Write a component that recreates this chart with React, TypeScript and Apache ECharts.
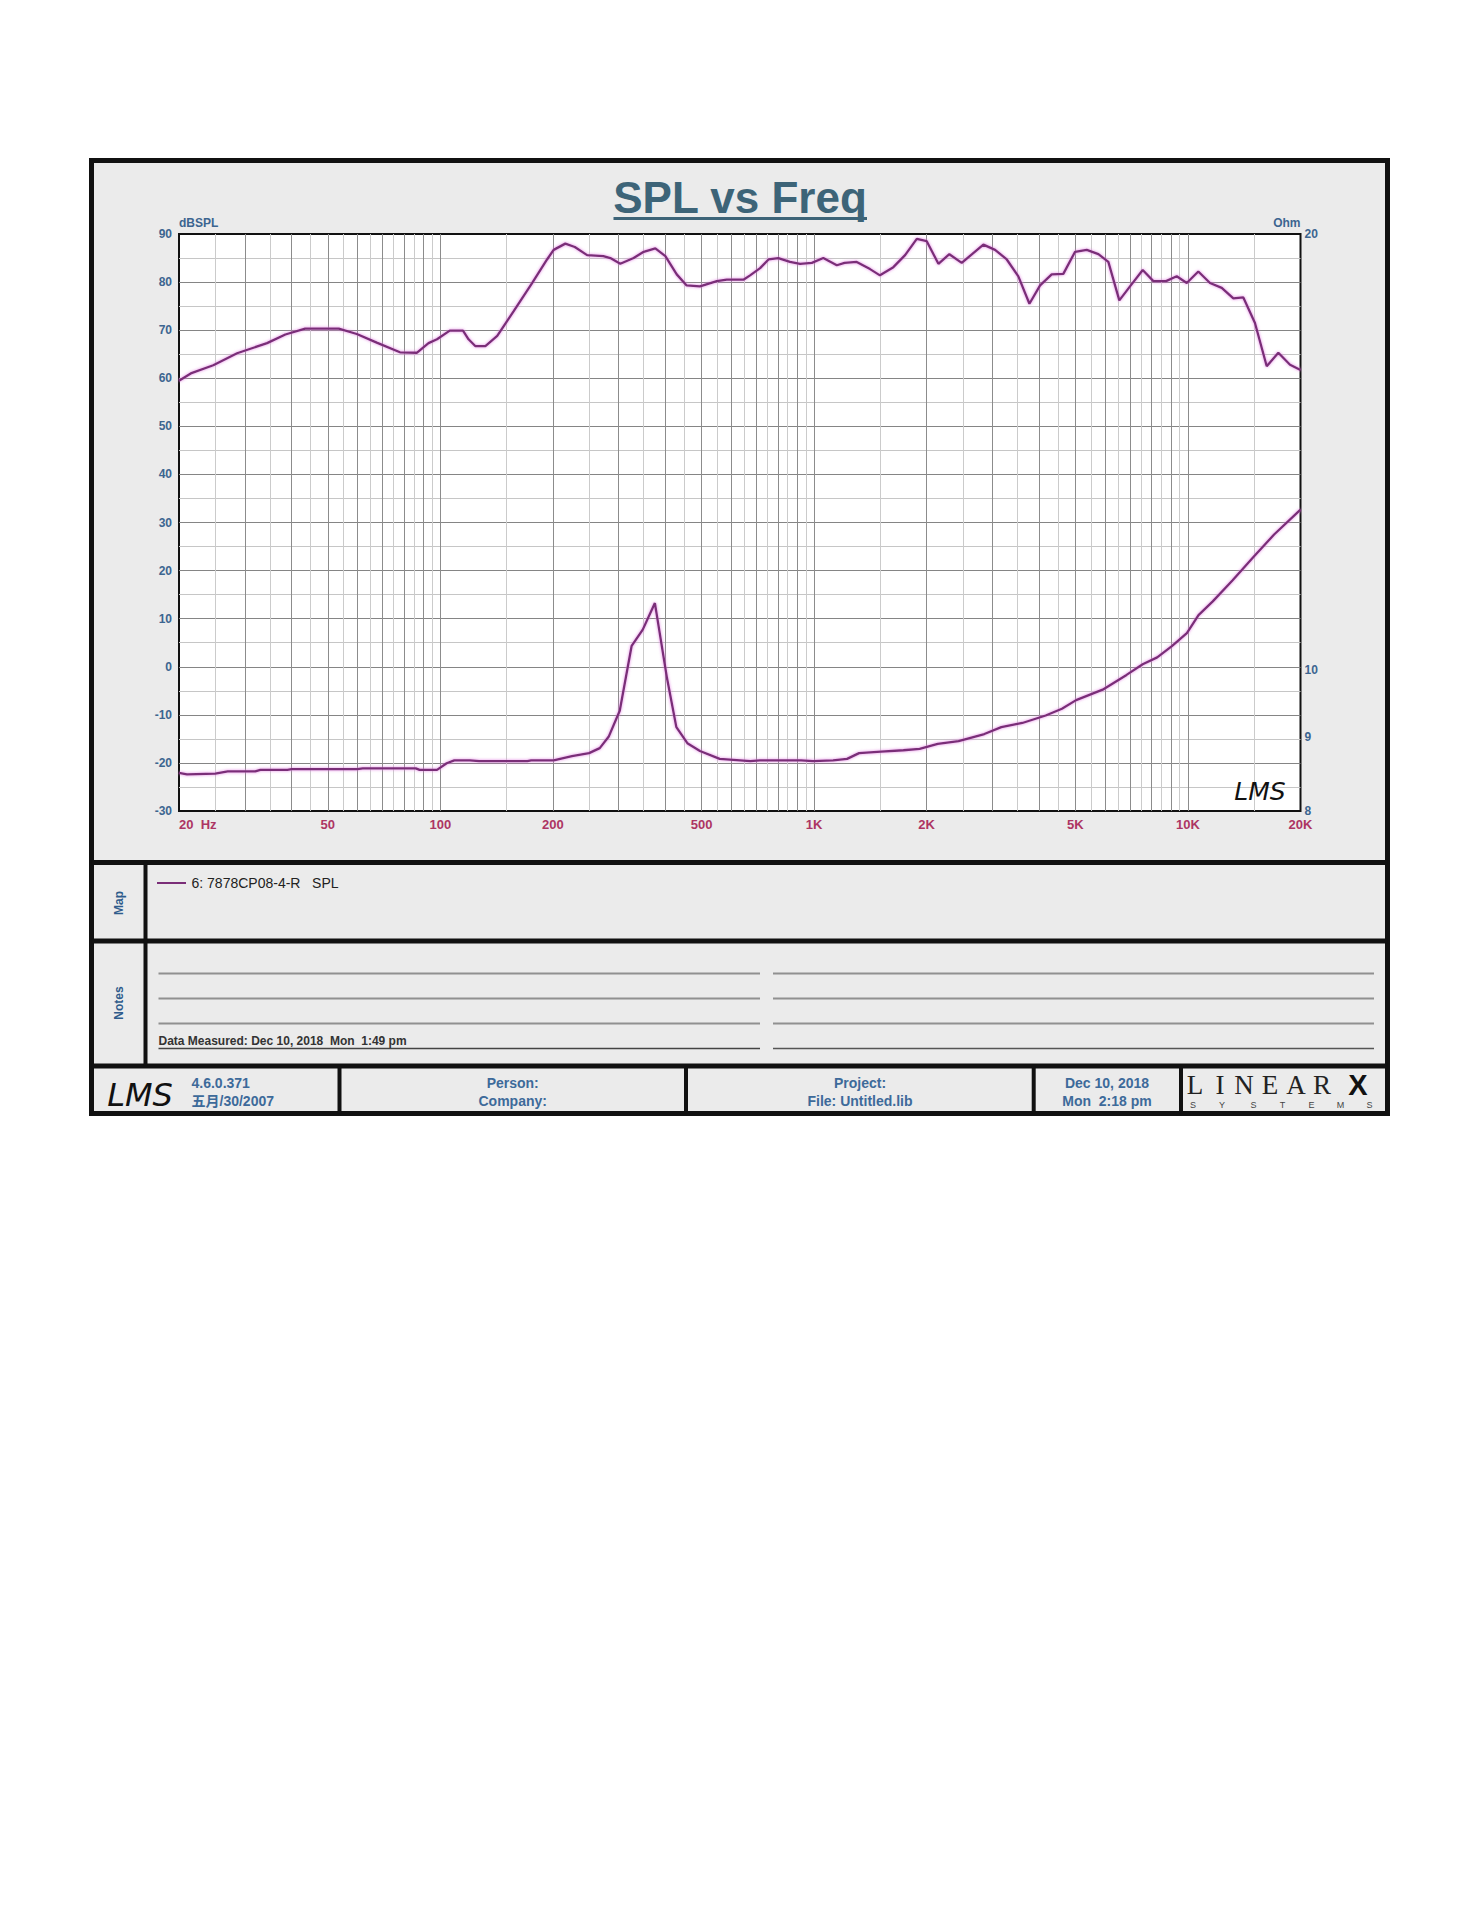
import React, { useEffect, useRef } from "react";
import * as echarts from "echarts";

// ---------- data ----------
const SPL_FREQ = [
  20, 21.5, 24.7, 28.6, 34.4, 38.5, 43.5, 53.5, 59.8, 67.6, 78, 86.5, 93, 98, 106, 115, 119, 124, 132, 142,
  157, 176, 193, 201, 216, 229, 247, 273, 285, 303, 329, 350, 376, 400, 429, 456, 495, 549, 584, 647,
  674, 717, 755, 802, 862, 917, 986, 1058, 1150, 1206, 1300, 1411, 1500, 1629, 1751, 1882, 2001, 2150, 2300, 2482,
  2836, 3048, 3276, 3518, 3766, 4022, 4320, 4641, 4989, 5361, 5760, 6124, 6552, 6998, 7568, 8081, 8737, 9332, 9926, 10659,
  11454, 12313, 13226, 14064, 15108, 16244, 17449, 18751, 20000,
];
const SPL_DB = [
  59.5, 61.0, 62.7, 65.2, 67.3, 69.1, 70.3, 70.3, 69.2, 67.4, 65.4, 65.3, 67.3, 68.1, 69.9, 69.9, 68.1, 66.7, 66.7, 68.8,
  73.9, 79.8, 84.7, 86.7, 88.0, 87.3, 85.6, 85.4, 85.0, 83.8, 85.0, 86.3, 87.0, 85.4, 81.6, 79.3, 79.1, 80.2, 80.5, 80.5,
  81.4, 82.9, 84.7, 85.0, 84.2, 83.8, 84.0, 85.0, 83.5, 84.0, 84.2, 82.7, 81.4, 83.1, 85.6, 89.0, 88.5, 83.8, 85.8, 84.0,
  87.8, 86.7, 84.7, 81.2, 75.5, 79.3, 81.6, 81.7, 86.3, 86.7, 85.8, 84.2, 76.2, 79.1, 82.5, 80.2, 80.2, 81.2, 79.8, 82.2,
  79.8, 78.8, 76.6, 76.8, 71.5, 62.5, 65.3, 62.8, 61.7,
];
const IMP_FREQ = [
  20, 21, 25, 27, 32, 33, 39, 40, 60, 62, 86, 88, 98, 104, 109, 120, 127, 171, 175, 201,
  225, 250, 267, 282, 302, 325, 348, 375, 404, 428, 458, 495, 559, 675, 716, 923, 993, 1124, 1225, 1319,
  1510, 1733, 1915, 2141, 2434, 2853, 3167, 3605, 4163, 4601, 5021, 5913, 6850, 7567, 8273, 9039, 9933, 10671, 11650, 13167,
  14905, 17000, 20000,
];
const IMP_OHM = [
  8.5, 8.48, 8.49, 8.52, 8.52, 8.54, 8.54, 8.55, 8.55, 8.56, 8.56, 8.54, 8.54, 8.63, 8.67, 8.67, 8.66, 8.66, 8.67, 8.67,
  8.73, 8.77, 8.84, 9.0, 9.38, 10.4, 10.67, 11.13, 9.88, 9.14, 8.91, 8.8, 8.69, 8.66, 8.67, 8.67, 8.66, 8.67, 8.69, 8.77,
  8.79, 8.81, 8.83, 8.9, 8.94, 9.04, 9.14, 9.2, 9.31, 9.41, 9.54, 9.7, 9.93, 10.1, 10.21, 10.39, 10.61, 10.92, 11.16, 11.54,
  11.96, 12.41, 12.91,
];

const GRID_FREQ_MAJOR = [
  30, 40, 50, 60, 70, 80, 90, 100, 200, 300, 400, 500, 600, 700, 800, 900,
  1000, 2000, 3000, 4000, 5000, 6000, 7000, 8000, 9000, 10000,
];
const GRID_FREQ_MINOR = [
  25, 35, 45, 55, 65, 75, 85, 95, 150, 250, 350, 450, 550, 650, 750, 850, 950,
  1500, 2500, 3500, 4500, 5500, 6500, 7500, 8500, 9500, 15000,
];
const FREQ_TICKS = [20, 50, 100, 200, 500, 1000, 2000, 5000, 10000, 20000];
const FREQ_LABELS = ["20  Hz", "50", "100", "200", "500", "1K", "2K", "5K", "10K", "20K"];
const FREQ_MIN = 20;
const FREQ_MAX = 20000;

const DB_MIN = -30;
const DB_MAX = 90;
const DB_STEP = 10;

const OHM_MIN = 8;
const OHM_MAX = 20;
const OHM_TICKS = [8, 9, 10, 20];

const TITLE = "SPL vs Freq";
const LEGEND_TEXT = "6: 7878CP08-4-R   SPL";
const MEASURED_TEXT = "Data Measured: Dec 10, 2018  Mon  1:49 pm";

// ---------- styles ----------
const FONT = "'Liberation Sans', Arial, 'Noto Sans CJK SC', sans-serif";
const SERIF = "'Liberation Serif', 'DejaVu Serif', serif";
const BLUE = "#3c6590";
const RED = "#ad3563";
const CURVE = "#7a2e78";
const TITLE_COLOR = "#3d6478";
const FOOT_BLUE = "#3d6a9a";
const CLEAR = "rgba(0,0,0,0)";

function txt(x: number, y: number, text: string, o: any = {}) {
  return {
    type: "text",
    x,
    y,
    z: 60,
    rotation: o.rotation || 0,
    silent: true,
    style: {
      text,
      fill: o.fill || FOOT_BLUE,
      fontSize: o.fontSize || 14,
      fontWeight: o.fontWeight || "bold",
      fontStyle: o.fontStyle || "normal",
      fontFamily: o.fontFamily || FONT,
      align: o.align || "center",
      verticalAlign: o.verticalAlign || "middle",
    },
  };
}
function ln(x1: number, y1: number, x2: number, y2: number, w: number, c: string) {
  return {
    type: "line",
    z: 50,
    silent: true,
    shape: { x1, y1, x2, y2 },
    style: { stroke: c, lineWidth: w },
  };
}

export default function App() {
  const ref = useRef<HTMLDivElement>(null);

  useEffect(() => {
    document.body.style.margin = "0";
    if (!ref.current) return;
    const chart = echarts.init(ref.current, undefined, { renderer: "svg" });

    const splData = SPL_FREQ.map((f, i) => [f, SPL_DB[i]]);
    const impData = IMP_FREQ.map((f, i) => [f, IMP_OHM[i]]);

    const gridLines = [
      ...GRID_FREQ_MAJOR.map((f) => ({ xAxis: f, lineStyle: { color: "#8c8c8c", width: 1, type: "solid" } })),
      ...GRID_FREQ_MINOR.map((f) => ({ xAxis: f, lineStyle: { color: "#cbcbcb", width: 1, type: "solid" } })),
      ...FREQ_TICKS.map((f, i) => ({
        xAxis: f,
        lineStyle: { color: CLEAR, width: 1 },
        label: {
          show: true,
          position: "start",
          formatter: FREQ_LABELS[i],
          color: RED,
          fontWeight: "bold",
          fontSize: 13,
          fontFamily: FONT,
          distance: 7,
          align: i === 0 ? "left" : "center",
        },
      })),
    ];

    const ohmLabels = OHM_TICKS.map((v) => ({
      yAxis: v,
      lineStyle: { color: CLEAR, width: 1 },
      label: {
        show: true,
        position: "end",
        formatter: String(v),
        color: BLUE,
        fontWeight: "bold",
        fontSize: 12,
        fontFamily: FONT,
        distance: 4,
      },
    }));

    const graphic: any[] = [
      {
        type: "rect",
        z: -10,
        silent: true,
        shape: { x: 91.5, y: 160.5, width: 1296, height: 953 },
        style: { fill: "#ebebeb", stroke: "#111", lineWidth: 5 },
      },
      ln(91.5, 862.5, 1387.5, 862.5, 5, "#111"),
      ln(91.5, 941, 1387.5, 941, 5, "#111"),
      ln(91.5, 1066, 1387.5, 1066, 5, "#111"),
      ln(145.5, 862.5, 145.5, 1066, 4, "#111"),
      ln(339.5, 1066, 339.5, 1113.5, 4, "#111"),
      ln(686, 1066, 686, 1113.5, 4, "#111"),
      ln(1033.7, 1066, 1033.7, 1113.5, 4, "#111"),
      ln(1181, 1066, 1181, 1113.5, 4, "#111"),
      txt(740, 197, TITLE, { fill: TITLE_COLOR, fontSize: 44 }),
      ln(613.5, 218.5, 867, 218.5, 3, TITLE_COLOR),
      txt(1260, 791, "LMS", { fill: "#111", fontSize: 25, fontWeight: "normal", fontStyle: "italic", fontFamily: "'DejaVu Sans', sans-serif" }),
      txt(119, 903, "Map", { fill: "#2f5c8c", fontSize: 12, rotation: Math.PI / 2 }),
      ln(157, 883, 186, 883, 2, CURVE),
      txt(191.5, 883, LEGEND_TEXT, { fill: "#222", fontSize: 14, fontWeight: "normal", align: "left" }),
      txt(119, 1003, "Notes", { fill: "#2f5c8c", fontSize: 12, rotation: Math.PI / 2 }),
      ln(158.5, 973.5, 760, 973.5, 2, "#909090"),
      ln(158.5, 998.5, 760, 998.5, 2, "#909090"),
      ln(158.5, 1023.5, 760, 1023.5, 2, "#909090"),
      ln(158.5, 1048.5, 760, 1048.5, 1.5, "#444"),
      ln(773, 973.5, 1374, 973.5, 2, "#909090"),
      ln(773, 998.5, 1374, 998.5, 2, "#909090"),
      ln(773, 1023.5, 1374, 1023.5, 2, "#909090"),
      ln(773, 1048.5, 1374, 1048.5, 1.5, "#555"),
      txt(158.5, 1041, MEASURED_TEXT, { fill: "#333", fontSize: 12, align: "left" }),
      txt(140, 1095, "LMS", { fill: "#111", fontSize: 32, fontWeight: "normal", fontStyle: "italic", fontFamily: "'DejaVu Sans', sans-serif" }),
      txt(191.5, 1083, "4.6.0.371", { fontSize: 14, align: "left" }),
      txt(191.5, 1101, "五月/30/2007", { fontSize: 14, align: "left" }),
      txt(512.7, 1083, "Person:", { fontSize: 14 }),
      txt(512.7, 1101, "Company:", { fontSize: 14 }),
      txt(860, 1083, "Project:", { fontSize: 14 }),
      txt(860, 1101, "File: Untitled.lib", { fontSize: 14 }),
      txt(1107, 1083, "Dec 10, 2018", { fontSize: 14 }),
      txt(1107, 1101, "Mon  2:18 pm", { fontSize: 14 }),
    ];
    const logoL = ["L", "I", "N", "E", "A", "R"];
    const logoX = [1195, 1220, 1244, 1270, 1296, 1322];
    logoL.forEach((c, i) =>
      graphic.push(txt(logoX[i], 1085, c, { fill: "#222", fontSize: 27, fontWeight: "normal", fontFamily: SERIF }))
    );
    graphic.push(txt(1358, 1085, "X", { fill: "#111", fontSize: 29, fontWeight: "bold", fontFamily: FONT }));
    const sysL = ["S", "Y", "S", "T", "E", "M", "S"];
    const sysX = [1193, 1222, 1253.6, 1282.6, 1311.6, 1340.6, 1369.6];
    sysL.forEach((c, i) =>
      graphic.push(txt(sysX[i], 1104.5, c, { fill: "#444", fontSize: 9, fontWeight: "normal", fontFamily: FONT }))
    );

    const option: any = {
      animation: false,
      textStyle: { fontFamily: FONT },
      grid: {
        left: 179,
        top: 234,
        width: 1121.5,
        height: 577,
        show: true,
        backgroundColor: "#ffffff",
        borderColor: "#111",
        borderWidth: 2,
        containLabel: false,
        outerBoundsMode: "none",
      },
      xAxis: {
        type: "log",
        logBase: 10,
        min: FREQ_MIN,
        max: FREQ_MAX,
        axisLine: { show: false },
        axisTick: { show: false },
        axisLabel: { show: false },
        splitLine: { show: false },
        minorSplitLine: { show: false },
      },
      yAxis: [
        {
          type: "value",
          min: DB_MIN,
          max: DB_MAX,
          interval: DB_STEP,
          name: "dBSPL",
          nameLocation: "end",
          nameGap: 5,
          nameTextStyle: { color: BLUE, fontWeight: "bold", fontSize: 12, align: "left", verticalAlign: "bottom" },
          axisLine: { show: false },
          axisTick: { show: false },
          axisLabel: { color: BLUE, fontWeight: "bold", fontSize: 12, margin: 7 },
          splitLine: { show: true, showMinLine: false, showMaxLine: false, lineStyle: { color: "#858585", width: 1 } },
          minorTick: { show: false, splitNumber: 2 },
          minorSplitLine: { show: true, lineStyle: { color: "#c6c6c6", width: 1 } },
        },
        {
          type: "log",
          logBase: 10,
          min: OHM_MIN,
          max: OHM_MAX,
          position: "right",
          name: "Ohm",
          nameLocation: "end",
          nameGap: 5,
          nameTextStyle: { color: BLUE, fontWeight: "bold", fontSize: 12, align: "right", verticalAlign: "bottom" },
          axisLine: { show: false },
          axisTick: { show: false },
          axisLabel: { show: false },
          splitLine: { show: false },
        },
      ],
      series: [
        {
          name: "SPL",
          type: "line",
          yAxisIndex: 0,
          data: splData,
          showSymbol: false,
          symbol: "none",
          z: 3,
          lineStyle: { color: CURVE, width: 2.3, shadowColor: "rgba(225,120,225,0.9)", shadowBlur: 3 },
          markLine: {
            silent: true,
            z: 1,
            symbol: ["none", "none"],
            lineStyle: { type: "solid" },
            label: { show: false },
            emphasis: { disabled: true },
            data: gridLines,
          },
        },
        {
          name: "Impedance",
          type: "line",
          yAxisIndex: 1,
          data: impData,
          showSymbol: false,
          symbol: "none",
          z: 3,
          lineStyle: { color: CURVE, width: 2.3, shadowColor: "rgba(225,120,225,0.9)", shadowBlur: 3 },
          markLine: {
            silent: true,
            z: 1,
            symbol: ["none", "none"],
            lineStyle: { type: "solid" },
            label: { show: false },
            emphasis: { disabled: true },
            data: ohmLabels,
          },
        },
      ],
      graphic,
    };

    chart.setOption(option);
    return () => chart.dispose();
  }, []);

  return <div ref={ref} style={{ width: 1483, height: 1130 }} />;
}
